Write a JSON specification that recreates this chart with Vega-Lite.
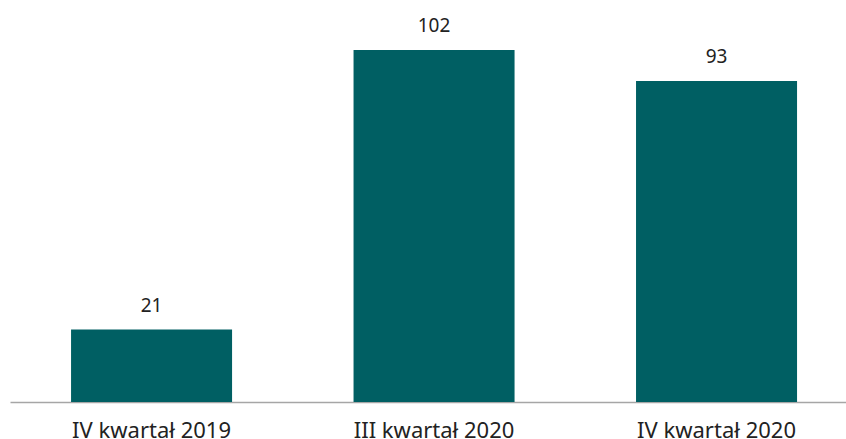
{
  "$schema": "https://vega.github.io/schema/vega-lite/v6.json",
  "width": 836,
  "height": 402,
  "padding": {"left": 10, "top": 0, "right": 0, "bottom": 37},
  "autosize": "none",
  "background": "white",
  "config": {"view": {"stroke": null}, "font": "Noto Sans"},
  "data": {"values": [
    {"okres": "IV kwartał 2019", "wartosc": 21},
    {"okres": "III kwartał 2020", "wartosc": 102},
    {"okres": "IV kwartał 2020", "wartosc": 93}
  ]},
  "encoding": {
    "x": {"field": "okres", "type": "nominal", "sort": null,
      "scale": {"paddingInner": 0.43, "paddingOuter": 0.1947, "align": 0.555},
      "axis": {"title": null, "labelAngle": 0, "ticks": false, "domainColor": "#a6a6a6", "domainWidth": 1.5,
        "labelFontSize": 22, "labelColor": "#222222", "labelPadding": 18, "labelFont": "Noto Sans"}},
    "y": {"field": "wartosc", "type": "quantitative",
      "scale": {"domain": [0, 116.5], "nice": false, "zero": true},
      "axis": null}
  },
  "layer": [
    {"mark": {"type": "bar", "color": "#005F63"}},
    {"mark": {"type": "text", "baseline": "bottom", "dy": -14, "fontSize": 19, "color": "#222222", "font": "Noto Sans"},
      "encoding": {"text": {"field": "wartosc", "type": "quantitative"}}}
  ]
}
